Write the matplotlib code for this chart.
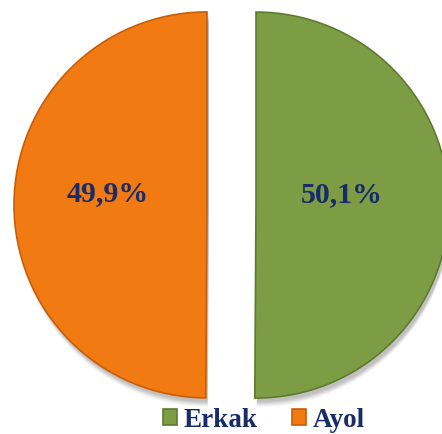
import matplotlib
matplotlib.use("Agg")
import matplotlib.pyplot as plt

categories = ["Erkak", "Ayol"]
values = [50.1, 49.9]
colors = ["#7D9D44", "#F27A12"]
edge_colors = ["#5E7A2E", "#C85E08"]

W, H = 442, 434
fig = plt.figure(figsize=(W / 100, H / 100), dpi=100)
ax = fig.add_axes([0, 0, 1, 1])

cx, cy, r = 231.5, H - 205, 193
explode = [24.5, 24.5]

# soft shadow
for k, a in zip(range(6), [0.05, 0.05, 0.05, 0.04, 0.04, 0.03]):
    ax.pie(values, startangle=90, counterclock=False, explode=explode,
           center=(cx + 2, cy - 4 - k), radius=r, colors=["#000000"] * 2,
           wedgeprops=dict(linewidth=0, alpha=a), frame=True)

wedges, texts, autotexts = ax.pie(
    values, startangle=90, counterclock=False, explode=explode,
    center=(cx, cy), radius=r, colors=colors,
    autopct=lambda p: f"{p:.1f}%".replace(".", ","), pctdistance=0.5,
    wedgeprops=dict(linewidth=1.2), frame=True,
    textprops=dict(family="Liberation Serif", fontweight="bold",
                   fontsize=21.5, color="#172C68"))
for w, ec in zip(wedges, edge_colors):
    w.set_edgecolor(ec)
label_shift = [(-11, 11), (-3, 11)]
for t, (dx, dy) in zip(autotexts, label_shift):
    x, y = t.get_position()
    t.set_position((x + dx, y + dy))

ax.set_xlim(0, W)
ax.set_ylim(0, H)
ax.set_aspect("equal")
ax.axis("off")

leg = ax.legend(wedges, categories, loc="center", bbox_to_anchor=(0.597, 0.032),
                ncol=2, frameon=False, handlelength=0.52, handleheight=0.52,
                handletextpad=0.22, columnspacing=1.3, borderpad=0, borderaxespad=0,
                prop=dict(family="Liberation Serif", weight="bold", size=19.5))
for t in leg.get_texts():
    t.set_color("#172C68")

fig.savefig("out.png", dpi=100)
